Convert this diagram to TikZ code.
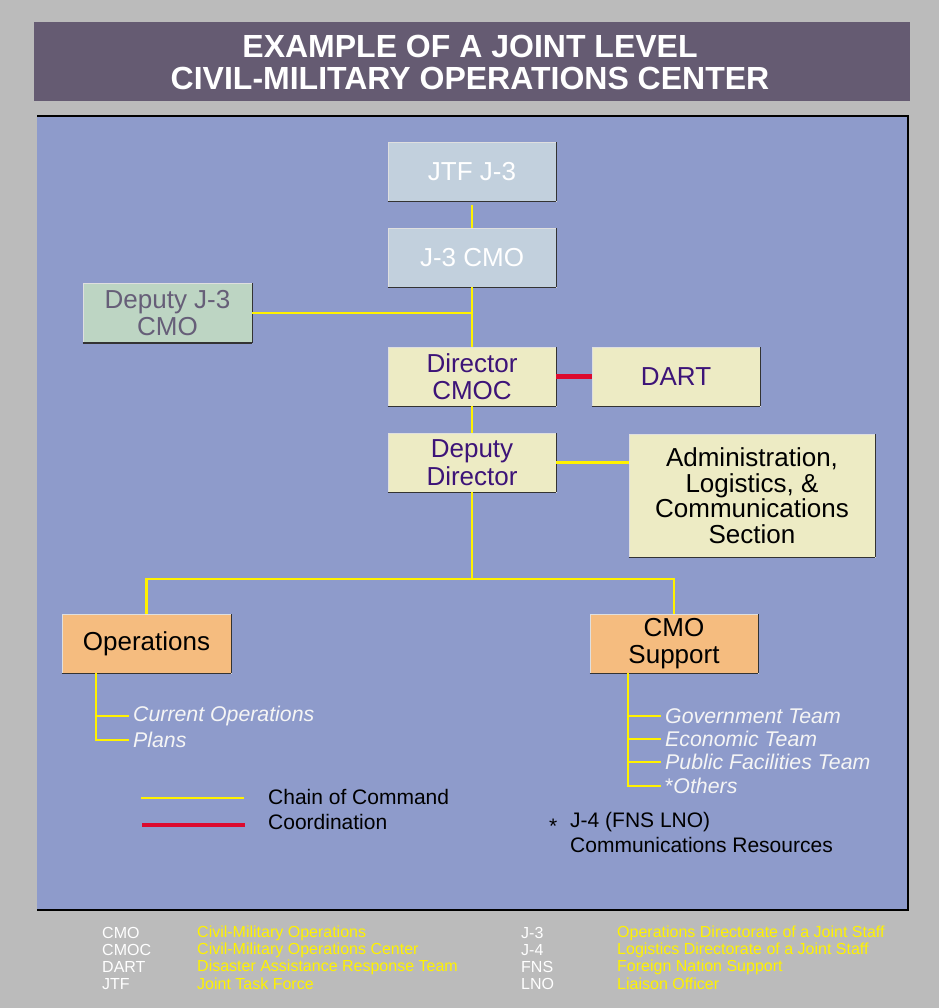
\documentclass[tikz,border=0pt]{standalone}
\usepackage{fontspec}
\setmainfont{Liberation Sans}
\usepackage{tikz}

\definecolor{pagegray}{HTML}{BBBBBB}
\definecolor{bannerpurple}{HTML}{655B72}
\definecolor{panelblue}{HTML}{8E9BCB}
\definecolor{jtfblue}{HTML}{C2D0DD}
\definecolor{deputygreen}{HTML}{BDD5C3}
\definecolor{cmocyellow}{HTML}{EDEBC4}
\definecolor{opsorange}{HTML}{F5BC7F}
\definecolor{graytext}{HTML}{665E78}
\definecolor{cmoctext}{HTML}{3D1478}
\definecolor{chainyellow}{HTML}{FFF200}
\definecolor{coordred}{HTML}{DC0A2E}

\newcommand\boxfont{\fontsize{26}{27.5}\selectfont}
\newcommand\itemfont{\fontsize{21.3}{23}\selectfont}
\newcommand\legendfont{\fontsize{21}{25}\selectfont}
\newcommand\footfont{\fontsize{16}{17}\selectfont}

\tikzset{
	unitbox/.style={minimum width=168pt, minimum height=59pt, inner sep=2pt, align=center,
		font=\boxfont, draw=white!75!gray, line width=0.8pt,
		append after command={(\tikzlastnode.south west) edge[edgeshade] (\tikzlastnode.south east)
			(\tikzlastnode.south east) edge[edgeshade] (\tikzlastnode.north east)}},
	edgeshade/.style={draw=black!80, line width=1.3pt},
	command/.style={draw=chainyellow, line width=2.8pt},
	coord/.style={draw=coordred, line width=4.5pt},
	teamitem/.style={anchor=west, inner sep=4pt, font=\itemfont\itshape, text=white!96!black},
	legendtext/.style={anchor=west, inner sep=0pt, font=\legendfont},
	abbr/.style={anchor=west, inner sep=0pt, font=\footfont, text=white},
	meaning/.style={anchor=west, inner sep=0pt, font=\footfont, text=chainyellow}
}

\begin{document}
\begin{tikzpicture}[x=1pt,y=-1pt]

		\useasboundingbox[fill=pagegray] (0,0) rectangle (939,1008);

		\fill[bannerpurple] (34,22) rectangle (910,101);
		\node[text=white, align=center, font=\fontsize{32}{32}\selectfont\bfseries] (title) at (470,62)
			{EXAMPLE OF A JOINT LEVEL\\CIVIL-MILITARY OPERATIONS CENTER};

		\fill[panelblue] (37,116) rectangle (908,910);
		\draw[black, line width=1.5pt] (37,116) -- (908,116) -- (908,910) -- (37,910);

		\node[unitbox, fill=jtfblue, text=white] (jtf) at (472,171.5) {JTF J-3};
		\node[unitbox, fill=jtfblue, text=white] (j3cmo) at (472,257.5) {J-3 CMO};
		\node[unitbox, fill=deputygreen, text=graytext, minimum width=169pt] (depj3) at (167.5,313) {Deputy J-3\\CMO};
		\node[unitbox, fill=cmocyellow, text=cmoctext] (director) at (472,376.5) {Director\\CMOC};
		\node[unitbox, fill=cmocyellow, text=cmoctext] (dart) at (676,376.5) {DART};
		\node[unitbox, fill=cmocyellow, text=cmoctext] (depdir) at (472,462.5) {Deputy\\Director};
		\node[unitbox, fill=cmocyellow, text=black, minimum width=246pt, minimum height=123pt,
			font=\fontsize{26}{25.5}\selectfont] (admin) at (752,495.5)
			{Administration,\\Logistics, \&\\Communications\\Section};
		\node[unitbox, fill=opsorange, text=black, minimum width=169pt] (ops) at (146.5,643.5) {Operations};
		\node[unitbox, fill=opsorange, text=black] (cmos) at (674,643.5) {CMO\\Support};

		\coordinate (split) at (472,579);

		\draw[command, shorten <=4pt] (jtf) -- (j3cmo);
		\draw[command] (j3cmo) -- (director);
		\draw[command] (depj3.east) -- (depj3.east -| j3cmo.south);
		\draw[command] (director) -- (depdir);
		\draw[coord] (director) -- (dart);
		\draw[command] (depdir.east) -- (depdir.east -| admin.west);
		\draw[command] (depdir) -- (split) -| (ops);
		\draw[command] (split) -| (cmos);

		\node[teamitem] (curops) at (129,716) {Current Operations};
		\node[teamitem] (plans) at (129,740) {Plans};
		\coordinate (opsroot) at (96,673);
		\draw[command] (opsroot) |- (plans.west);
		\draw[command] (opsroot |- curops.west) -- (curops.west);

		\node[teamitem] (govt) at (661,716) {Government Team};
		\node[teamitem] (econ) at (661,739) {Economic Team};
		\node[teamitem] (pubfac) at (661,762) {Public Facilities Team};
		\node[teamitem] (others) at (661,786) {\upshape*\itshape Others};
		\coordinate (cmosroot) at (628,673);
		\draw[command] (cmosroot) |- (others.west);
		\foreach \t in {govt,econ,pubfac}
			\draw[command] (cmosroot |- \t.west) -- (\t.west);

		\coordinate (chainA) at (141,798);
		\coordinate (chainB) at (244,798);
		\coordinate (coordA) at (142,825);
		\coordinate (coordB) at (245,825);
		\draw[command] (chainA) -- (chainB);
		\draw[coord] (coordA) -- (coordB);
		\node[legendtext] (chainlbl) at (268,797) {Chain of Command};
		\node[legendtext] (coordlbl) at (268,822) {Coordination};

		\node[legendtext] (star) at (549,826) {*};
		\node[legendtext] (j4lbl) at (570,822) {J-4 (FNS LNO)};
		\node[legendtext] (commlbl) at (570,845) {Communications Resources};

		\node[abbr] (a1) at (102,933) {CMO};
		\node[abbr] (a2) at (102,950) {CMOC};
		\node[abbr] (a3) at (102,967) {DART};
		\node[abbr] (a4) at (102,984) {JTF};
		\node[meaning] (m1) at (197,933) {Civil-Military Operations};
		\node[meaning] (m2) at (197,950) {Civil-Military Operations Center};
		\node[meaning] (m3) at (197,967) {Disaster Assistance Response Team};
		\node[meaning] (m4) at (197,984) {Joint Task Force};
		\node[abbr] (a5) at (521,933) {J-3};
		\node[abbr] (a6) at (521,950) {J-4};
		\node[abbr] (a7) at (521,967) {FNS};
		\node[abbr] (a8) at (521,984) {LNO};
		\node[meaning] (m5) at (617,933) {Operations Directorate of a Joint Staff};
		\node[meaning] (m6) at (617,950) {Logistics Directorate of a Joint Staff};
		\node[meaning] (m7) at (617,967) {Foreign Nation Support};
		\node[meaning] (m8) at (617,984) {Liaison Officer};

	\end{tikzpicture}
\end{document}
